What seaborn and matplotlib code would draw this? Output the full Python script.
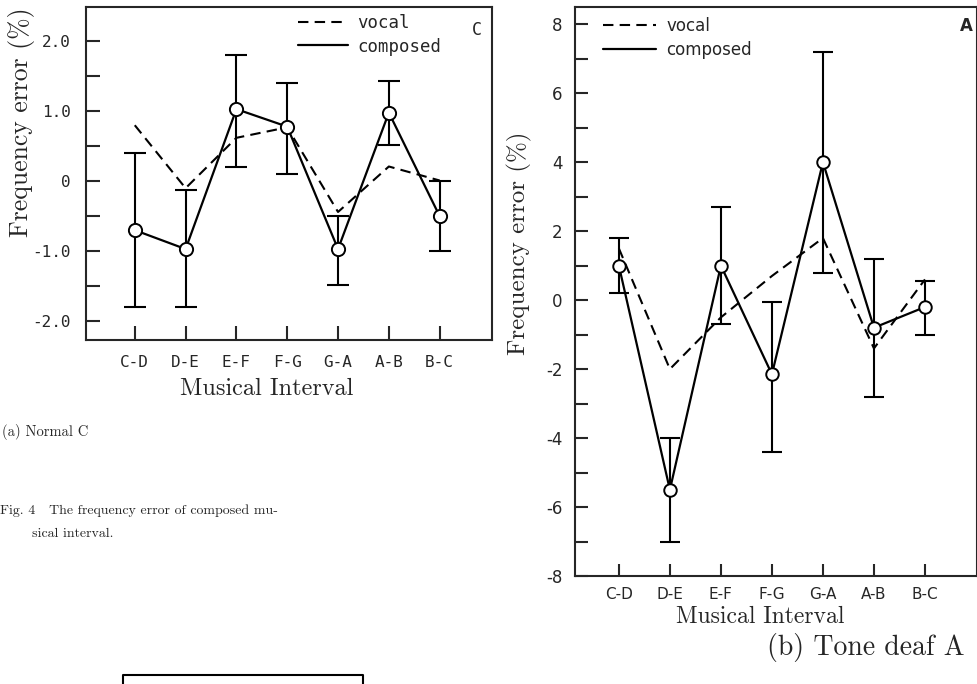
import numpy as np
import pandas as pd
import seaborn as sns
import matplotlib.pyplot as plt
from matplotlib.lines import Line2D
from matplotlib.ticker import MultipleLocator

# musical intervals on the x axis
intervals = ["C-D", "D-E", "E-F", "F-G", "G-A", "A-B", "B-C"]

# (a) Normal C
normal_vocal = [0.8, -0.1, 0.62, 0.77, -0.44, 0.21, 0.01]
normal_composed = [-0.7, -0.97, 1.03, 0.78, -0.97, 0.98, -0.5]
normal_err_hi = [0.4, -0.12, 1.8, 1.4, -0.5, 1.43, 0.0]
normal_err_lo = [-1.8, -1.8, 0.2, 0.1, -1.48, 0.52, -1.0]
normal_yticks = [-2, -1, 0, 1, 2]
normal_ylabels = ["-2.0", "-1.0", "0", "1.0", "2.0"]

# (b) Tone deaf A
deaf_vocal = [1.5, -2.0, -0.5, 0.7, 1.8, -1.4, 0.6]
deaf_composed = [1.0, -5.5, 1.0, -2.15, 4.0, -0.8, -0.2]
deaf_err_hi = [1.8, -4.0, 2.7, -0.05, 7.2, 1.2, 0.55]
deaf_err_lo = [0.2, -7.0, -0.7, -4.4, 0.8, -2.8, -1.0]
deaf_yticks = [-8, -6, -4, -2, 0, 2, 4, 6, 8]
deaf_ylabels = ["-8", "-6", "-4", "-2", "0", "2", "4", "6", "8"]

sns.set_style("ticks", {"xtick.direction": "in", "ytick.direction": "in"})
plt.rcParams["font.family"] = ["cmr10", "DejaVu Serif"]
plt.rcParams["axes.linewidth"] = 1.5

SERIF = "cmr10"
MONO = "DejaVu Sans Mono"
SANS = "DejaVu Sans"

fig = plt.figure(figsize=(9.78, 6.84), dpi=100)
ax_a = fig.add_axes([86 / 978, 1 - 340 / 684, 406 / 978, 333 / 684])
ax_b = fig.add_axes([575 / 978, 1 - 576 / 684, 402 / 978, 569 / 684])


def draw_panel(ax, vocal, composed, hi, lo, msize, capsize, dash_len):
    df = pd.DataFrame({"interval": intervals, "vocal": vocal, "composed": composed})
    sns.lineplot(data=df, x="interval", y="vocal", ax=ax, color="black", lw=1.5,
                 sort=False, dashes=False, label="vocal")
    ax.lines[-1].set_dashes(dash_len)
    sns.lineplot(data=df, x="interval", y="composed", ax=ax, color="black", lw=1.6,
                 sort=False, label="composed")
    comp = np.array(composed)
    yerr = [comp - np.array(lo), np.array(hi) - comp]
    ax.errorbar(intervals, composed, yerr=yerr, fmt="none", ecolor="black",
                elinewidth=1.5, capsize=capsize, capthick=1.5, zorder=3)
    sns.scatterplot(data=df, x="interval", y="composed", ax=ax, s=msize ** 2,
                    facecolor="white", edgecolor="black", linewidth=1.4, zorder=5)
    ax.set_xlabel("")
    ax.set_ylabel("")
    for side in ["top", "right", "left", "bottom"]:
        ax.spines[side].set_visible(True)
        ax.spines[side].set_linewidth(1.5)


# ---- panel (a) ----
draw_panel(ax_a, normal_vocal, normal_composed, normal_err_hi, normal_err_lo,
           9.5, 8, (5, 3))
ax_a.set_xlim(-0.96, 7.03)
ax_a.set_ylim(-2.27, 2.49)
ax_a.set_yticks(normal_yticks, normal_ylabels, fontfamily=MONO, fontsize=11.5)
ax_a.yaxis.set_minor_locator(MultipleLocator(0.5))
ax_a.set_xticks(range(len(intervals)), intervals, fontfamily=MONO, fontsize=11.5)
ax_a.tick_params(axis="y", which="both", direction="in", length=10, width=1.5, pad=11)
ax_a.tick_params(axis="x", direction="in", length=10, width=1.5, pad=11)
ax_a.set_ylabel("Frequency error (%)", fontfamily=SERIF, fontsize=18.5)
ax_a.yaxis.set_label_coords(-0.126, 0.655)
ax_a.set_xlabel("Musical Interval", fontfamily=SERIF, fontsize=17.5)
ax_a.xaxis.set_label_coords(0.446, -0.115)
ax_a.legend(loc="upper left", bbox_to_anchor=(0.522, 0.978), frameon=False,
            borderaxespad=0, borderpad=0, handlelength=2.9, handletextpad=0.5,
            labelspacing=0.3, prop={"family": MONO, "size": 12.5})
ax_a.text(0.963, 0.931, "C", transform=ax_a.transAxes, ha="center", va="center",
          fontfamily=MONO, fontsize=12)

# ---- panel (b) ----
draw_panel(ax_b, deaf_vocal, deaf_composed, deaf_err_hi, deaf_err_lo,
           9, 7, (5, 3))
ax_b.set_xlim(-0.86, 7.02)
ax_b.set_ylim(-8, 8.5)
ax_b.set_yticks(deaf_yticks, deaf_ylabels, fontfamily=SANS, fontsize=12)
ax_b.yaxis.set_minor_locator(MultipleLocator(1))
ax_b.set_xticks(range(len(intervals)), intervals, fontfamily=SANS, fontsize=11)
ax_b.tick_params(axis="y", which="both", direction="in", length=9, width=1.5, pad=9)
ax_b.tick_params(axis="x", direction="in", length=9, width=1.5, pad=8)
ax_b.set_ylabel("Frequency error (%)", fontfamily=SERIF, fontsize=18)
ax_b.yaxis.set_label_coords(-0.107, 0.585)
ax_b.set_xlabel("Musical Interval", fontfamily=SERIF, fontsize=17)
ax_b.xaxis.set_label_coords(0.46, -0.052)
ax_b.legend(loc="upper left", bbox_to_anchor=(0.07, 0.982), frameon=False,
            borderaxespad=0, borderpad=0, handlelength=3.2, handletextpad=0.6,
            labelspacing=0.35, prop={"family": SANS, "size": 12})
ax_b.text(0.973, 0.967, "A", transform=ax_b.transAxes, ha="center", va="center",
          fontfamily=SANS, fontsize=12, fontweight="bold")

# ---- captions ----
fig.text(2 / 978, 1 - 432 / 684, "(a) Normal C", ha="left", va="center",
         fontfamily=SERIF, fontsize=10.5)
fig.text(0 / 978, 1 - 511 / 684, "Fig. 4   The frequency error of composed mu-",
         ha="left", va="center", fontfamily=SERIF, fontsize=10)
fig.text(32 / 978, 1 - 534 / 684, "sical interval.", ha="left", va="center",
         fontfamily=SERIF, fontsize=10)
fig.text(965 / 978, 1 - 648 / 684, "(b) Tone deaf A", ha="right", va="center",
         fontfamily=SERIF, fontsize=20)

# top edge of the next figure's box, cut off at the page bottom
fig.add_artist(Line2D([123 / 978, 123 / 978, 363 / 978, 363 / 978],
                      [0, 1 - 675 / 684, 1 - 675 / 684, 0],
                      transform=fig.transFigure, color="black", lw=1.5))

fig.savefig("out.png", dpi=100, facecolor="white")
